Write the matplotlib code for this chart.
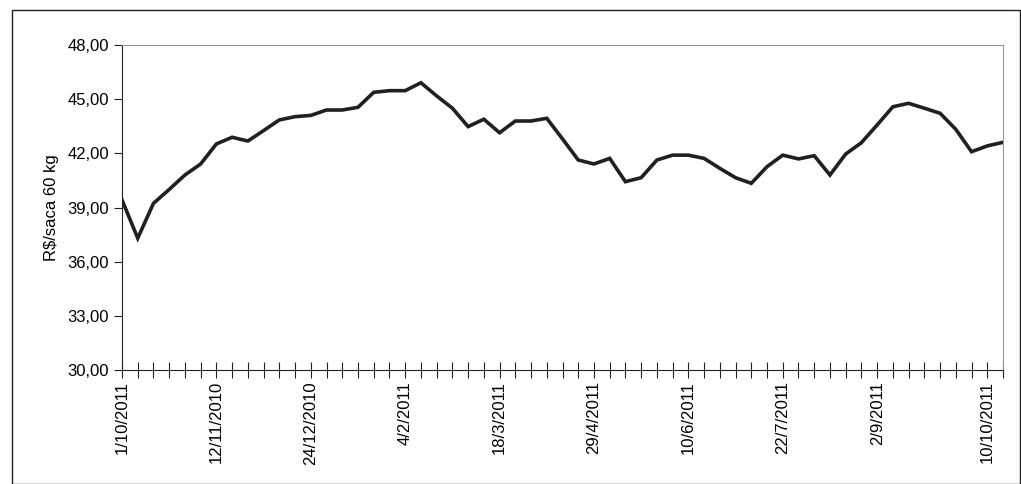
import matplotlib
matplotlib.use("Agg")
import matplotlib.pyplot as plt
from matplotlib.patches import Rectangle

values = [39.42, 37.3, 39.23, 40.0, 40.8, 41.41, 42.52, 42.89, 42.68, 43.26,
          43.85, 44.03, 44.1, 44.4, 44.4, 44.55, 45.38, 45.47, 45.47, 45.91,
          45.18, 44.5, 43.48, 43.89, 43.14, 43.79, 43.79, 43.94, 42.8, 41.63,
          41.41, 41.72, 40.43, 40.65, 41.63, 41.9, 41.9, 41.72, 41.17, 40.65,
          40.34, 41.26, 41.9, 41.69, 41.87, 40.8, 41.96, 42.59, 43.57, 44.58,
          44.77, 44.5, 44.22, 43.33, 42.09, 42.41, 42.61]
label_pos = [0, 6, 12, 18, 24, 30, 36, 42, 48, 55]
labels = ["1/10/2011", "12/11/2010", "24/12/2010", "4/2/2011", "18/3/2011",
          "29/4/2011", "10/6/2011", "22/7/2011", "2/9/2011", "10/10/2011"]
yticks = [30, 33, 36, 39, 42, 45, 48]

plt.rcParams['font.family'] = ['Liberation Sans', 'DejaVu Sans']
fs = 12
fig = plt.figure(figsize=(10.21, 4.84), dpi=100)
ax = fig.add_axes([122/1021, 1-370/484, (1003-122)/1021, (370-45)/484])
x = list(range(len(values)))
ax.plot(x, values, color='#231f20', lw=2.6, solid_joinstyle='miter')
ax.set_xlim(0, len(values)-1)
ax.set_ylim(30, 48)
ax.set_yticks(yticks)
ax.set_yticklabels([f"{v:.2f}".replace('.', ',') for v in yticks], fontsize=fs)
ax.set_xticks(x, minor=True)
ax.set_xticks(label_pos)
ax.set_xticklabels(labels, rotation=90, fontsize=fs)
ax.tick_params(axis='x', which='both', direction='inout', length=12, width=0.8, color='#231f20', pad=2)
ax.tick_params(axis='y', direction='out', length=6, width=0.8, color='#231f20')
ax.set_ylabel("R$/saca 60 kg", fontsize=fs, labelpad=6)
for s in ['top', 'right']:
    ax.spines[s].set_color('#999999')
for s in ['left', 'bottom']:
    ax.spines[s].set_color('#231f20')
fig.patches.append(Rectangle((12/1021, 0), 1-13/1021, 1-10/484, transform=fig.transFigure,
                             fill=False, ec='#231f20', lw=1))
fig.savefig("out.png", dpi=100)
